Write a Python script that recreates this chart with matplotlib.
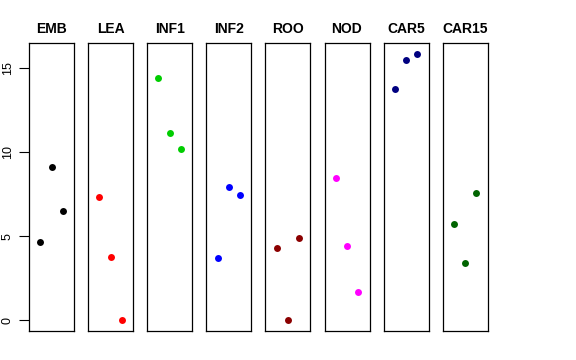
import matplotlib
matplotlib.use("Agg")
import matplotlib.pyplot as plt

plt.rcParams['font.family'] = ['Liberation Sans', 'DejaVu Sans']

groups = ['EMB', 'LEA', 'INF1', 'INF2', 'ROO', 'NOD', 'CAR5', 'CAR15']
colors = ['black', 'red', '#00CD00', 'blue', '#8B0000', 'magenta', '#000080', '#006400']
values = [
    [4.64, 9.11, 6.49],
    [7.32, 3.75, 0.0],
    [14.4, 11.13, 10.18],
    [3.69, 7.92, 7.44],
    [4.29, 0.0, 4.88],
    [8.45, 4.40, 1.67],
    [13.75, 15.48, 15.83],
    [5.71, 3.39, 7.56],
]

fig = plt.figure(figsize=(5.76, 3.6), dpi=100)
W, H = 576.0, 360.0
ymax = max(max(v) for v in values)
pad = ymax * 0.04

for i, (g, c, v) in enumerate(zip(groups, colors, values)):
    left = 29 + i * 59.1
    ax = fig.add_axes([left / W, 29 / H, 45 / W, 288 / H])
    ax.plot([1, 2, 3], v, 'o', color=c, markersize=5, markeredgewidth=0)
    ax.set_xlim(0, 4)
    ax.set_ylim(-pad, ymax + pad)
    ax.set_xticks([])
    ax.set_title(g, fontsize=10, fontweight='bold', pad=7)
    for s in ax.spines.values():
        s.set_linewidth(0.9)
    if i == 0:
        ax.set_yticks([0, 5, 10, 15])
        ax.tick_params(axis='y', length=7, width=0.8, labelsize=9, pad=4)
        for lab in ax.get_yticklabels():
            lab.set_rotation(90)
            lab.set_va('center')
    else:
        ax.set_yticks([])

fig.savefig('out.png', dpi=100)
